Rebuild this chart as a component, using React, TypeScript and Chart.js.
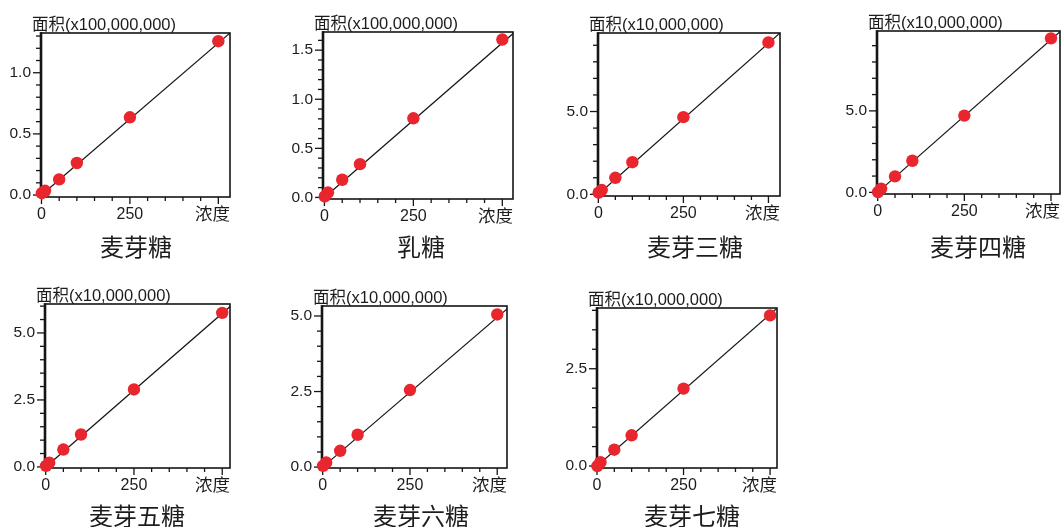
import { useEffect, useRef } from "react";
import { Chart, registerables } from "chart.js";

Chart.register(...registerables);

// Standard concentrations of the calibration series
const CONCENTRATION = [1, 10, 50, 100, 250, 500];

// Peak areas, in the unit shown on each panel's y-axis
const MALTOSE = [0.015, 0.035, 0.128, 0.262, 0.636, 1.258];
const LACTOSE = [0.01, 0.05, 0.18, 0.339, 0.806, 1.608];
const MALTOTRIOSE = [0.1, 0.26, 1.0, 1.94, 4.66, 9.17];
const MALTOTETRAOSE = [0.02, 0.23, 0.98, 1.94, 4.71, 9.45];
const MALTOPENTAOSE = [0.04, 0.16, 0.65, 1.21, 2.89, 5.75];
const MALTOHEXAOSE = [0.04, 0.15, 0.54, 1.07, 2.55, 5.05];
const MALTOHEPTAOSE = [0.0, 0.1, 0.42, 0.79, 1.99, 3.87];

// Calibration lines: area at both ends of FIT_X
const FIT_X = [0, 540];
const MALTOSE_FIT = [0, 1.342];
const LACTOSE_FIT = [0, 1.7];
const MALTOTRIOSE_FIT = [0, 9.85];
const MALTOTETRAOSE_FIT = [0, 10.12];
const MALTOPENTAOSE_FIT = [0, 6.19];
const MALTOHEXAOSE_FIT = [0, 5.35];
const MALTOHEPTAOSE_FIT = [0, 4.21];

const NAMES = ["麦芽糖", "乳糖", "麦芽三糖", "麦芽四糖", "麦芽五糖", "麦芽六糖", "麦芽七糖"];
const AREA_SCALE = [
  "x100,000,000",
  "x100,000,000",
  "x10,000,000",
  "x10,000,000",
  "x10,000,000",
  "x10,000,000",
  "x10,000,000",
];
const Y_NAME = "面积";
const X_NAME = "浓度";

// Axis ticks
const Y_LABEL_STEP = [0.5, 0.5, 5, 5, 2.5, 2.5, 2.5];
const Y_MINOR_STEP = [0.1, 0.1, 1, 1, 0.5, 0.5, 0.5];
const X_LABELLED = [0, 250];
const X_MAJOR_STEP = 250;
const X_MINOR_STEP = 50;
const X_LAST_TICK = 500;

const SERIES = [MALTOSE, LACTOSE, MALTOTRIOSE, MALTOTETRAOSE, MALTOPENTAOSE, MALTOHEXAOSE, MALTOHEPTAOSE];
const FITS = [
  MALTOSE_FIT,
  LACTOSE_FIT,
  MALTOTRIOSE_FIT,
  MALTOTETRAOSE_FIT,
  MALTOPENTAOSE_FIT,
  MALTOHEXAOSE_FIT,
  MALTOHEPTAOSE_FIT,
];

// Plot frames on the page and their axis ranges
const FRAMES = [
  { l: 41, t: 33, r: 230, b: 197, xMin: -1.4, xMax: 533, yMin: -0.016, yMax: 1.325, nameX: 136, nameY: 249 },
  { l: 323, t: 32, r: 513, b: 199, xMin: -4, xMax: 530, yMin: -0.016, yMax: 1.685, nameX: 421, nameY: 249 },
  { l: 598, t: 33, r: 780, b: 196, xMin: -1, xMax: 534, yMin: -0.1, yMax: 9.74, nameX: 695, nameY: 249 },
  { l: 877, t: 31, r: 1060, b: 194, xMin: -2, xMax: 526, yMin: -0.1, yMax: 9.9, nameX: 978, nameY: 249 },
  { l: 45, t: 304, r: 230, b: 468, xMin: -2, xMax: 522, yMin: -0.04, yMax: 6.08, nameX: 137, nameY: 518 },
  { l: 322, t: 306, r: 507, b: 468, xMin: -2, xMax: 528, yMin: -0.03, yMax: 5.33, nameX: 421, nameY: 518 },
  { l: 597, t: 308, r: 777, b: 468, xMin: 0, xMax: 520, yMin: -0.05, yMax: 4.06, nameX: 692, nameY: 518 },
];

const AXIS_W = 40;
const TITLE_H = 32;
const RIGHT_GAP = 2;
const BOTTOM_H = 66;

const FONT = '"Liberation Sans", Arial, "Noto Sans CJK SC", sans-serif';
const TEXT = "#1c1c1c";
const INK = "#151515";
const DOT = "rgb(233, 38, 46)";

const isMultiple = (v: number, step: number) => Math.abs(v / step - Math.round(v / step)) < 1e-6;

function CalibrationPanel({ index }: { index: number }) {
  const ref = useRef<HTMLCanvasElement | null>(null);
  const f = FRAMES[index];
  const width = f.r - f.l + AXIS_W + RIGHT_GAP;
  const height = f.b - f.t + TITLE_H + BOTTOM_H;
  const left = f.l - AXIS_W;
  const top = f.t - TITLE_H;

  useEffect(() => {
    const canvas = ref.current;
    if (!canvas) return;
    const values = SERIES[index];
    const fit = FITS[index];
    const yMinor = Y_MINOR_STEP[index];
    const yMajor = Y_LABEL_STEP[index];

    const decor = {
      id: "panelDecor",
      beforeDatasetsDraw(chart: any) {
        const { ctx, chartArea: a } = chart;
        const xs = chart.scales.x;
        const ys = chart.scales.y;
        ctx.save();
        ctx.strokeStyle = INK;
        // y ticks, pointing out of the frame
        ctx.lineWidth = 1.3;
        for (const t of ys.ticks) {
          const py = ys.getPixelForValue(t.value);
          const len = isMultiple(t.value, yMajor) ? 8 : 5;
          ctx.beginPath();
          ctx.moveTo(a.left - len, py);
          ctx.lineTo(a.left, py);
          ctx.stroke();
        }
        // x ticks, below the frame
        for (const t of xs.ticks) {
          const px = xs.getPixelForValue(t.value);
          const len = isMultiple(t.value, X_MAJOR_STEP) ? 7 : 4;
          ctx.beginPath();
          ctx.moveTo(px, a.bottom);
          ctx.lineTo(px, a.bottom + len);
          ctx.stroke();
        }
        // frame
        ctx.lineWidth = 1.6;
        ctx.strokeRect(a.left, a.top, a.right - a.left, a.bottom - a.top);
        ctx.lineWidth = 2.6;
        ctx.beginPath();
        ctx.moveTo(a.left, a.top - 0.8);
        ctx.lineTo(a.left, a.bottom + 0.8);
        ctx.stroke();
        ctx.restore();
      },
      afterDraw(chart: any) {
        const { ctx, chartArea: a } = chart;
        ctx.save();
        ctx.fillStyle = TEXT;
        ctx.textBaseline = "alphabetic";
        ctx.font = `16.5px ${FONT}`;
        ctx.textAlign = "left";
        ctx.fillText(`${Y_NAME}(${AREA_SCALE[index]})`, a.left - 9, a.top - 3);
        ctx.font = `17.5px ${FONT}`;
        ctx.textAlign = "right";
        ctx.fillText(X_NAME, a.right, a.bottom + 23);
        ctx.font = `24px ${FONT}`;
        ctx.textAlign = "center";
        ctx.textBaseline = "middle";
        ctx.fillText(NAMES[index], f.nameX - left, f.nameY - top);
        ctx.restore();
      },
    };

    const yTicks: { value: number }[] = [];
    for (let i = 0; i * yMinor <= f.yMax + 1e-9; i++) {
      yTicks.push({ value: Math.round(i * yMinor * 1000) / 1000 });
    }
    const xTicks: { value: number }[] = [];
    for (let v = 0; v <= X_LAST_TICK; v += X_MINOR_STEP) xTicks.push({ value: v });

    const chart = new Chart(canvas, {
      type: "scatter",
      data: {
        datasets: [
          {
            data: CONCENTRATION.map((x, i) => ({ x, y: values[i] })),
            backgroundColor: DOT,
            borderColor: DOT,
            borderWidth: 0,
            pointRadius: 6.2,
            pointHoverRadius: 6.2,
            clip: false,
            order: 0,
          },
          {
            data: FIT_X.map((x, i) => ({ x, y: fit[i] })),
            showLine: true,
            borderColor: INK,
            borderWidth: 1.2,
            pointRadius: 0,
            pointHoverRadius: 0,
            order: 1,
          },
        ],
      },
      options: {
        responsive: false,
        maintainAspectRatio: false,
        animation: false,
        events: [],
        layout: { autoPadding: false, padding: { left: 0, top: TITLE_H, right: RIGHT_GAP, bottom: 0 } },
        plugins: { legend: { display: false }, tooltip: { enabled: false } },
        scales: {
          x: {
            type: "linear",
            position: "bottom",
            min: f.xMin,
            max: f.xMax,
            grid: { display: false, drawTicks: false },
            border: { display: false },
            afterBuildTicks: (s: any) => {
              s.ticks = xTicks.map((t) => ({ ...t }));
            },
            afterFit: (s: any) => {
              s.height = BOTTOM_H;
            },
            ticks: {
              autoSkip: false,
              maxRotation: 0,
              padding: 8,
              color: TEXT,
              font: { family: FONT, size: 16 },
              callback: (v: any) => (X_LABELLED.includes(Number(v)) ? String(v) : ""),
            },
          },
          y: {
            type: "linear",
            min: f.yMin,
            max: f.yMax,
            grid: { display: false, drawTicks: false },
            border: { display: false },
            afterBuildTicks: (s: any) => {
              s.ticks = yTicks.map((t) => ({ ...t }));
            },
            afterFit: (s: any) => {
              s.width = AXIS_W;
            },
            ticks: {
              autoSkip: false,
              padding: 10,
              color: TEXT,
              font: { family: FONT, size: 15.5 },
              callback: (v: any) => (isMultiple(Number(v), yMajor) ? Number(v).toFixed(1) : ""),
            },
          },
        },
      },
      plugins: [decor],
    } as any);
    return () => chart.destroy();
  }, [index]);

  return (
    <canvas
      ref={ref}
      width={width}
      height={height}
      style={{ position: "absolute", left, top, width, height }}
    />
  );
}

export default function App() {
  return (
    <div
      style={{
        position: "absolute",
        left: 0,
        top: 0,
        width: 1063,
        height: 527,
        overflow: "hidden",
        background: "#ffffff",
      }}
    >
      {NAMES.map((_, i) => (
        <CalibrationPanel key={i} index={i} />
      ))}
    </div>
  );
}
